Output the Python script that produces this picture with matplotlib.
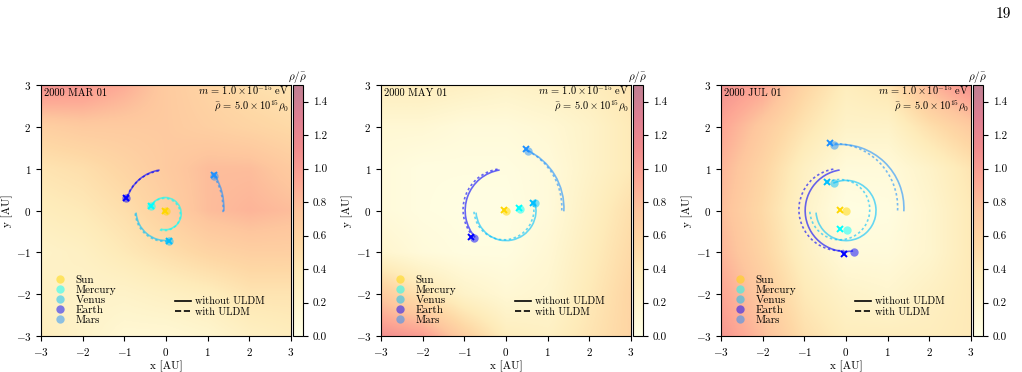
import numpy as np
import matplotlib
matplotlib.use('Agg')
import matplotlib.pyplot as plt
from matplotlib.patches import Arc
from matplotlib.lines import Line2D

plt.rcParams['font.family'] = 'serif'
plt.rcParams['font.serif'] = ['cmr10']
plt.rcParams['mathtext.fontset'] = 'cm'
plt.rcParams['axes.formatter.use_mathtext'] = True
plt.rcParams['font.size'] = 8

# ---- data ----
DATES = ['2000 MAR 01', '2000 MAY 01', '2000 JUL 01']
BODIES = ['Sun', 'Mercury', 'Venus', 'Earth', 'Mars']
COLORS = ['gold', 'cyan', 'deepskyblue', 'blue', 'dodgerblue']

# density rho/rho_bar sampled at x, y = -3..3 (rows from y=+3 down to y=-3)
GRID_STEP = 1.0
RHO_MAR = [
    [1.10, 1.05, 0.90, 0.70, 0.60, 0.50, 0.45],
    [0.65, 0.70, 0.70, 0.70, 0.65, 0.60, 0.55],
    [0.45, 0.50, 0.60, 0.70, 0.80, 0.80, 0.70],
    [0.35, 0.40, 0.50, 0.65, 0.80, 0.85, 0.80],
    [0.25, 0.30, 0.40, 0.50, 0.60, 0.65, 0.65],
    [0.30, 0.25, 0.25, 0.30, 0.35, 0.45, 0.45],
    [0.35, 0.25, 0.15, 0.15, 0.20, 0.30, 0.35],
]
RHO_MAY = [
    [0.35, 0.35, 0.30, 0.25, 0.30, 0.35, 0.45],
    [0.15, 0.15, 0.10, 0.10, 0.15, 0.25, 0.40],
    [0.10, 0.05, 0.05, 0.05, 0.10, 0.25, 0.40],
    [0.10, 0.05, 0.03, 0.03, 0.10, 0.30, 0.50],
    [0.20, 0.10, 0.05, 0.05, 0.15, 0.35, 0.55],
    [0.70, 0.45, 0.25, 0.15, 0.20, 0.40, 0.60],
    [1.10, 1.00, 0.65, 0.35, 0.30, 0.45, 0.60],
]
RHO_JUL = [
    [1.10, 0.95, 0.60, 0.35, 0.45, 0.85, 1.10],
    [0.95, 0.70, 0.45, 0.25, 0.25, 0.50, 0.70],
    [0.85, 0.60, 0.30, 0.10, 0.10, 0.25, 0.45],
    [0.80, 0.55, 0.25, 0.03, 0.05, 0.20, 0.40],
    [0.85, 0.60, 0.30, 0.10, 0.10, 0.20, 0.40],
    [0.95, 0.70, 0.40, 0.25, 0.20, 0.30, 0.40],
    [1.05, 0.80, 0.50, 0.35, 0.35, 0.35, 0.40],
]
RHO = [RHO_MAR, RHO_MAY, RHO_JUL]

# orbit circles (Mercury, Venus, Earth, Mars): centre, radius, start angle on 2000 JAN 01
ORBIT_CX = [-0.02, 0.0, 0.0, -0.13]
ORBIT_CY = [-0.075, 0.0, 0.0, 0.06]
ORBIT_R = [0.385, 0.72, 0.98, 1.52]
START_ANG = [253.6, 184.0, 99.0, -3.0]

# end angle of each trail (deg, continuous from start)
END_NO_ULDM = [
    [513.4, 276.0, 162.0, 31.0],
    [738.0, 378.0, 221.0, 65.6],
    [996.0, 475.0, 280.0, 95.7],
]
END_ULDM = [
    [508.0, 277.0, 160.8, 31.8],
    [735.8, 373.8, 220.2, 64.8],
    [993.0, 474.4, 275.4, 93.7],
]
# drift of the system with ULDM (offset of the Sun)
ULDM_DX = [-0.02, -0.05, -0.15]
ULDM_DY = [-0.02, 0.02, 0.02]

# final positions: circles = without ULDM, crosses = with ULDM (Sun..Mars)
POS_X = [[0.0, -0.37, 0.08, -0.95, 1.15],
         [0.0, 0.33, 0.70, -0.77, 0.52],
         [0.0, 0.02, -0.30, 0.18, -0.28]]
POS_Y = [[0.0, 0.10, -0.73, 0.31, 0.83],
         [0.0, 0.04, 0.18, -0.66, 1.43],
         [0.0, -0.47, 0.65, -1.00, 1.56]]
POS_ULDM_X = [[-0.02, -0.37, 0.07, -0.97, 1.14],
              [-0.05, 0.30, 0.64, -0.83, 0.47],
              [-0.15, -0.15, -0.45, -0.05, -0.38]]
POS_ULDM_Y = [[-0.02, 0.11, -0.73, 0.31, 0.84],
              [0.02, 0.05, 0.19, -0.64, 1.46],
              [0.02, -0.45, 0.68, -1.03, 1.62]]

W, H = 1022, 372
AX_LEFT = [41, 381, 721]
CB_LEFT = [292.5, 632.5, 972.5]

fig = plt.figure(figsize=(W / 100, H / 100), dpi=100)

for p in range(3):
    ax = fig.add_axes([AX_LEFT[p] / W, 36 / H, 250 / W, 251 / H])
    cax = fig.add_axes([CB_LEFT[p] / W, 36 / H, 10.5 / W, 251 / H])

    half = 3 + GRID_STEP / 2
    img = ax.imshow(np.array(RHO[p]), extent=(-half, half, -half, half), origin='upper',
                    cmap='YlOrRd', vmin=0, vmax=1.5, alpha=0.5,
                    interpolation='bilinear', zorder=0)

    for i in range(4):
        c = COLORS[i + 1]
        t1 = START_ANG[i]
        t2 = min(END_NO_ULDM[p][i], t1 + 360)
        ax.add_patch(Arc((ORBIT_CX[i], ORBIT_CY[i]), 2 * ORBIT_R[i], 2 * ORBIT_R[i],
                         theta1=t1, theta2=t2, color=c, lw=1.2, alpha=0.6, zorder=2))
        t2u = min(END_ULDM[p][i], t1 + 360)
        ax.add_patch(Arc((ORBIT_CX[i] + ULDM_DX[p], ORBIT_CY[i] + ULDM_DY[p]),
                         2 * ORBIT_R[i], 2 * ORBIT_R[i], theta1=t1, theta2=t2u,
                         color=c, lw=1.2, alpha=0.6, ls=(0, (1.5, 1.5)), zorder=2))

    for j in range(5):
        ax.plot(POS_X[p][j], POS_Y[p][j], 'o', color=COLORS[j], alpha=0.5,
                ms=6, mec='none', zorder=3)
        ax.plot(POS_ULDM_X[p][j], POS_ULDM_Y[p][j], 'x', color=COLORS[j],
                ms=4.5, mew=1.4, zorder=4)

    ax.set_xlim(-3, 3)
    ax.set_ylim(-3, 3)
    ax.set_aspect('auto')
    ax.set_xticks([-3, -2, -1, 0, 1, 2, 3])
    ax.set_yticks([-3, -2, -1, 0, 1, 2, 3])
    ax.tick_params(labelsize=8, length=3.5, width=0.8)
    ax.set_xlabel('x [AU]', fontsize=8, labelpad=2)
    ax.set_ylabel('y [AU]', fontsize=8, labelpad=2)

    ax.text(0.01, 0.985, DATES[p], transform=ax.transAxes, ha='left', va='top', fontsize=7.5)
    ax.text(0.99, 0.960, r'$m\, =\, 1.0\times10^{-15}\ \mathrm{eV}$',
            transform=ax.transAxes, ha='right', va='baseline', fontsize=7.5)
    ax.text(0.99, 0.905, r'$\bar{\rho}\, =\, 5.0\times10^{15}\rho_0$',
            transform=ax.transAxes, ha='right', va='baseline', fontsize=7.5)

    handles = [Line2D([], [], ls='none', marker='o', ms=6, mec='none',
                      color=COLORS[j], alpha=0.5) for j in range(5)]
    leg1 = ax.legend(handles, BODIES, loc='lower left', frameon=False, fontsize=8,
                     labelspacing=0.02, handletextpad=0.6, borderaxespad=0.6,
                     handlelength=1.6, bbox_to_anchor=(-0.005, 0.0))
    ax.add_artist(leg1)
    lines = [Line2D([], [], color='k', lw=1.2),
             Line2D([], [], color='k', lw=1.2, ls='--')]
    ax.legend(lines, ['without ULDM', 'with ULDM'], loc='lower right', frameon=False,
              fontsize=7.4, labelspacing=0.1, handlelength=1.5, handletextpad=0.4,
              bbox_to_anchor=(0.93, 0.04))

    cb = fig.colorbar(img, cax=cax)
    cb.set_ticks([0.0, 0.2, 0.4, 0.6, 0.8, 1.0, 1.2, 1.4])
    cb.ax.tick_params(labelsize=8, length=3.5, width=0.8)
    cb.ax.yaxis.set_major_formatter(matplotlib.ticker.FormatStrFormatter('%.1f'))
    cax.set_title(r'$\rho/\bar{\rho}$', fontsize=8, pad=1)

fig.text(1003 / W, 1 - 14 / H, '19', ha='center', va='center', fontsize=11)

fig.savefig('out.png', dpi=100)
